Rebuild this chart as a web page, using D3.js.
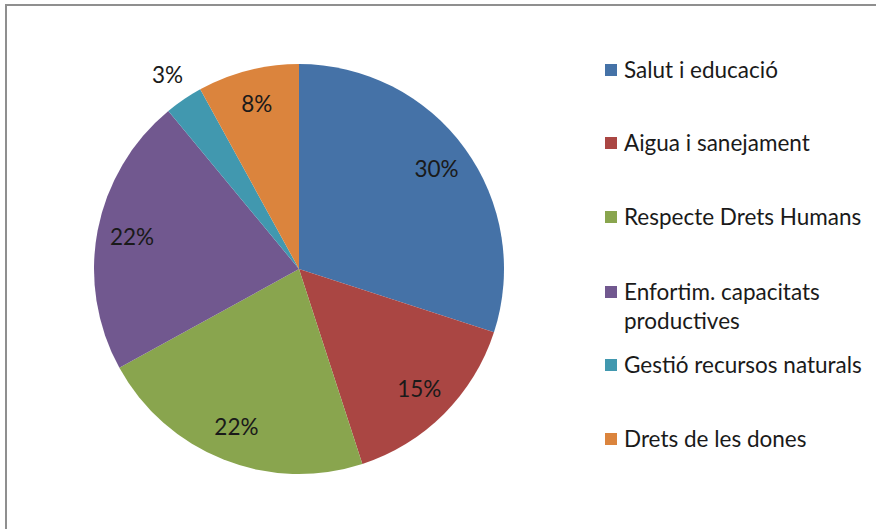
<!DOCTYPE html>
<html>
<head>
<meta charset="utf-8">
<script src="https://cdn.jsdelivr.net/npm/d3@7"></script>
<style>
  body { margin: 0; background: #fff; }
  text { font-family: Lato, "Open Sans", sans-serif; fill: #1a1a1a; }
</style>
</head>
<body>
<div class="chart"></div>
<script>
const categories = ['Salut i educació', 'Aigua i sanejament', 'Respecte Drets Humans',
  'Enfortim. capacitats productives', 'Gestió recursos naturals', 'Drets de les dones'];
const values = [30, 15, 22, 22, 3, 8];
const colors = ['#4572a7', '#aa4643', '#89a54e', '#71588f', '#4198af', '#db843d'];
// legend lines (wrapped like the original)
const legendLines = [['Salut i educació'], ['Aigua i sanejament'], ['Respecte Drets Humans'],
  ['Enfortim. capacitats', 'productives'], ['Gestió recursos naturals'], ['Drets de les dones']];

const width = 876, height = 529;
const cx = 299, cy = 269, r = 205;

const svg = d3.select('.chart')
              .append('svg')
              .attr('width', width)
              .attr('height', height);

// chart frame
svg.append('rect')
  .attr('x', 6).attr('y', 5)
  .attr('width', width + 20).attr('height', height + 20)
  .attr('fill', 'none')
  .attr('stroke', '#8f8f8f')
  .attr('stroke-width', 2);

const pie = d3.pie().sort(null).value(d => d);
const arcs = pie(values);
const arc = d3.arc().innerRadius(0).outerRadius(r);
const labelArc = d3.arc().innerRadius(170).outerRadius(170);
const outerArc = d3.arc().innerRadius(234).outerRadius(234);

const g = svg.append('g').attr('transform', `translate(${cx},${cy})`);

g.selectAll('path')
  .data(arcs)
  .join('path')
    .attr('d', arc)
    .attr('fill', (d, i) => colors[i]);

const total = d3.sum(values);
g.selectAll('text')
  .data(arcs)
  .join('text')
    .attr('transform', d => `translate(${(d.value / total < 0.05 ? outerArc : labelArc).centroid(d)})`)
    .attr('text-anchor', 'middle')
    .attr('dy', '0.35em')
    .style('font-size', '22.5px')
    .text(d => Math.round(d.value / total * 100) + '%');

// legend
const legendY = [70, 143, 217, 292, 365, 439];
const legend = svg.append('g');
legendLines.forEach((lines, i) => {
  const row = legend.append('g').attr('transform', `translate(605,${legendY[i]})`);
  row.append('rect')
    .attr('x', 0).attr('y', -6)
    .attr('width', 12).attr('height', 12)
    .attr('fill', colors[i]);
  lines.forEach((t, j) => {
    row.append('text')
      .attr('x', 19)
      .attr('y', j * 29)
      .attr('dy', '0.35em')
      .style('font-size', '22.5px')
      .text(t);
  });
});
</script>
</body>
</html>
